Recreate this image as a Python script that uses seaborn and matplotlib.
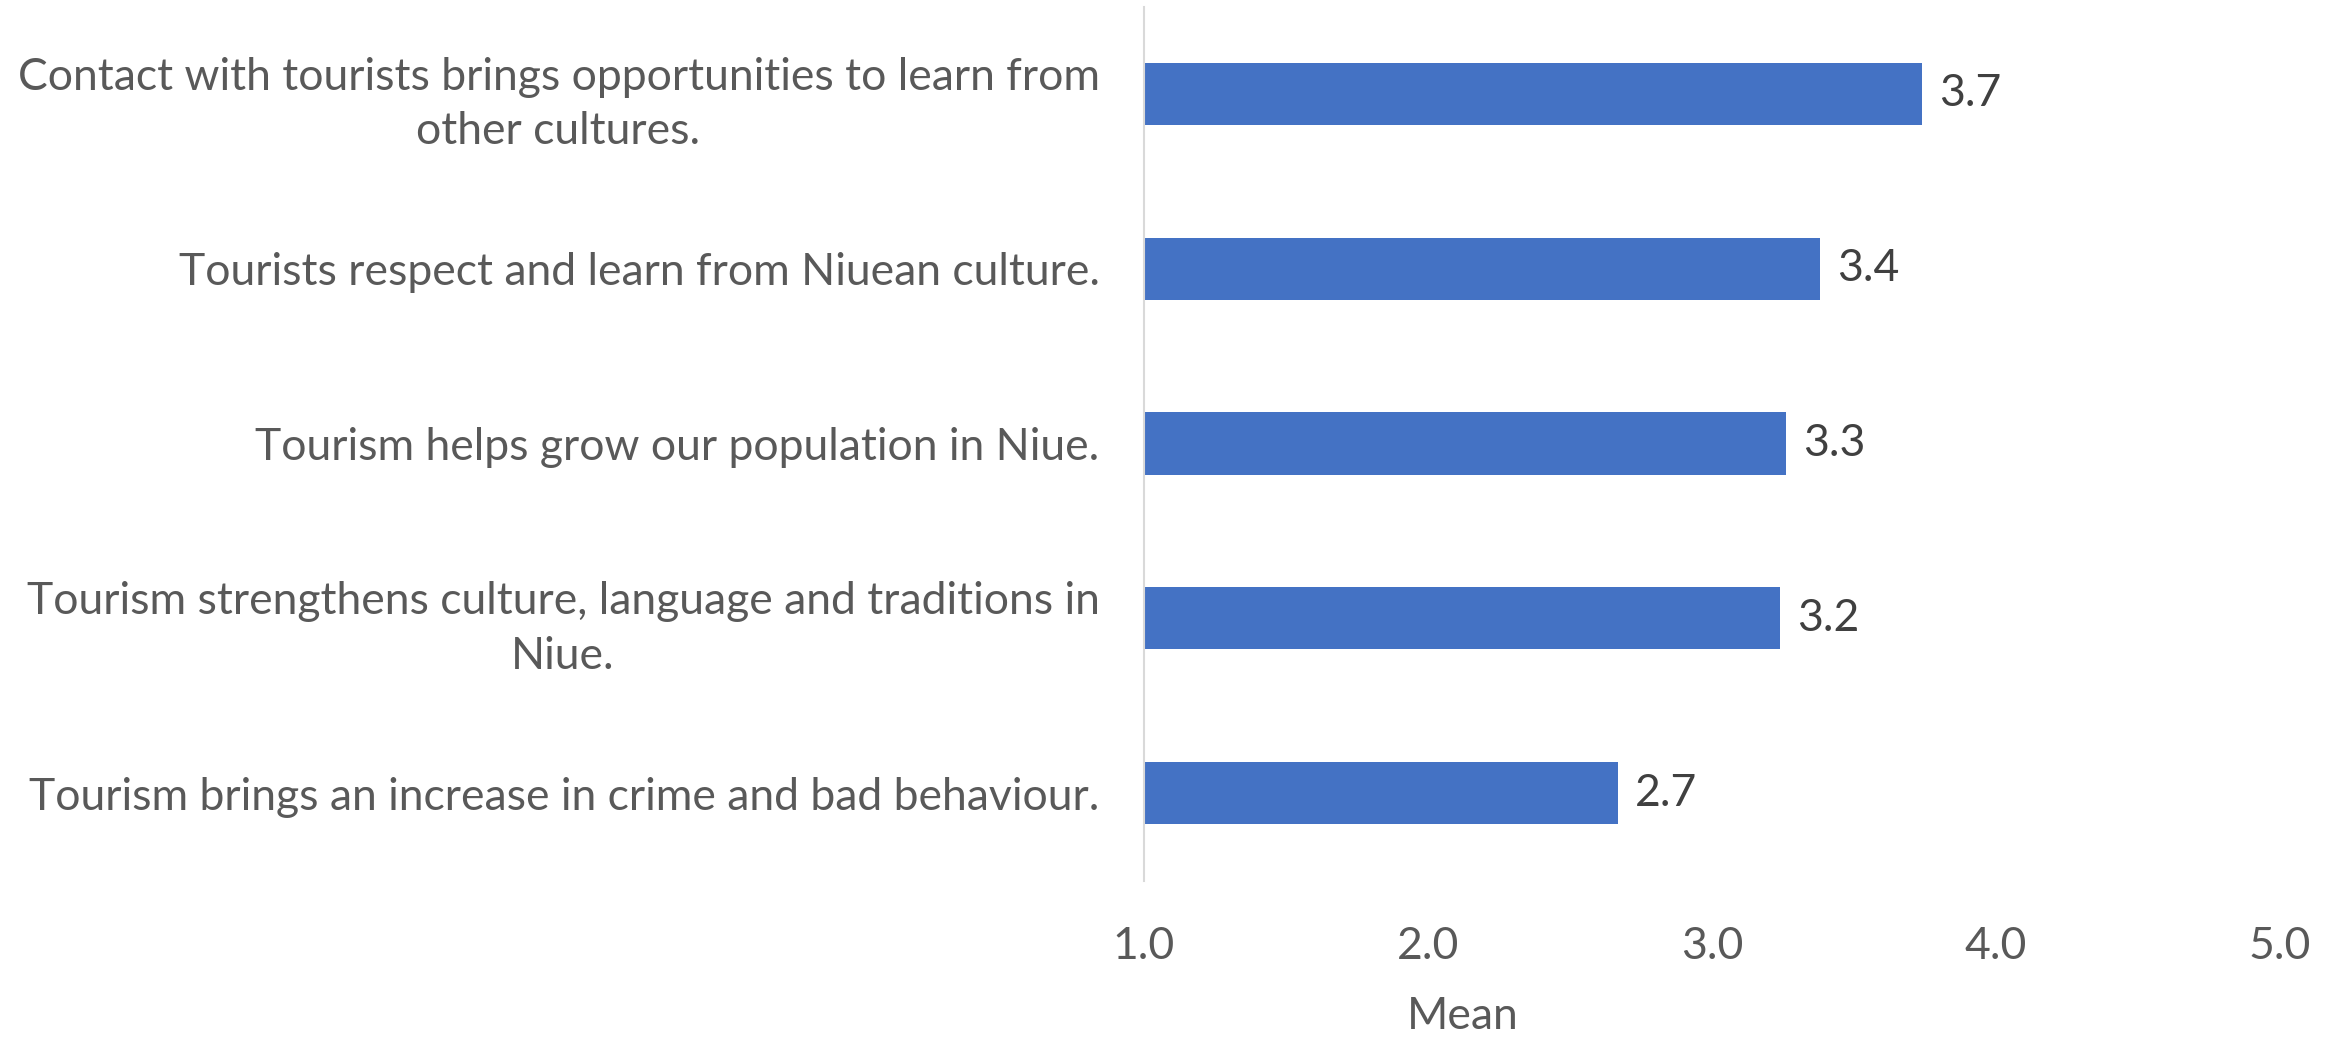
import matplotlib
matplotlib.use("Agg")
import matplotlib.pyplot as plt
import pandas as pd
import seaborn as sns

# survey statements, top to bottom
statements = [
    "Contact with tourists brings opportunities to learn from\nother cultures.",
    "Tourists respect and learn from Niuean culture.",
    "Tourism helps grow our population in Niue.",
    "Tourism strengthens culture, language and traditions in\nNiue.",
    "Tourism brings an increase in crime and bad behaviour.",
]
means = [3.74, 3.38, 3.26, 3.24, 2.67]
x_ticks = [1.0, 2.0, 3.0, 4.0, 5.0]
x_label = "Mean"

BAR_COLOR = "#4472C4"
TEXT_COLOR = "#595959"
LABEL_COLOR = "#404040"

sns.set_style("white")
plt.rcParams["font.family"] = ["Lato", "DejaVu Sans"]

df = pd.DataFrame({"statement": statements, "mean": means})

fig = plt.figure(figsize=(23.39, 10.37), dpi=100)
ax = fig.add_axes([0.4891, 0.1509, 0.4857, 0.8428])

# bars start at 1.0 (left edge of the scale)
sns.barplot(data=df, y="statement", x="mean", color=BAR_COLOR, width=0.355,
            saturation=1, ax=ax, orient="h")
for p in ax.patches:
    w = p.get_width()
    p.set_x(1.0)
    p.set_width(w - 1.0)
    p.set_edgecolor("none")

for p, v in zip(ax.patches, means):
    ax.text(p.get_x() + p.get_width() + 0.06, p.get_y() + p.get_height() / 2,
            f"{v:.1f}", va="center", ha="left", fontsize=32, color=LABEL_COLOR)

ax.set_xlim(1.0, 5.0)
ax.set_ylim(len(statements) - 0.5, -0.5)
ax.set_xticks(x_ticks)
ax.set_xticklabels([f"{t:.1f}" for t in x_ticks])
ax.set_ylabel("")
ax.set_xlabel(x_label, fontsize=32, color=TEXT_COLOR, va="center")
ax.xaxis.set_label_coords(0.281, -0.156)

ax.tick_params(axis="x", length=0, pad=33, labelsize=32, labelcolor=TEXT_COLOR)
ax.tick_params(axis="y", length=0, pad=32, labelsize=32, labelcolor=TEXT_COLOR)
for lbl in ax.get_yticklabels():
    lbl.set_multialignment("center")
    lbl.set_linespacing(1.4)

for side in ["top", "right", "bottom"]:
    ax.spines[side].set_visible(False)
ax.spines["left"].set_color("#D9D9D9")
ax.spines["left"].set_linewidth(1.5)
ax.grid(False)

fig.savefig("out.png", dpi=100, facecolor="white")
plt.close(fig)
